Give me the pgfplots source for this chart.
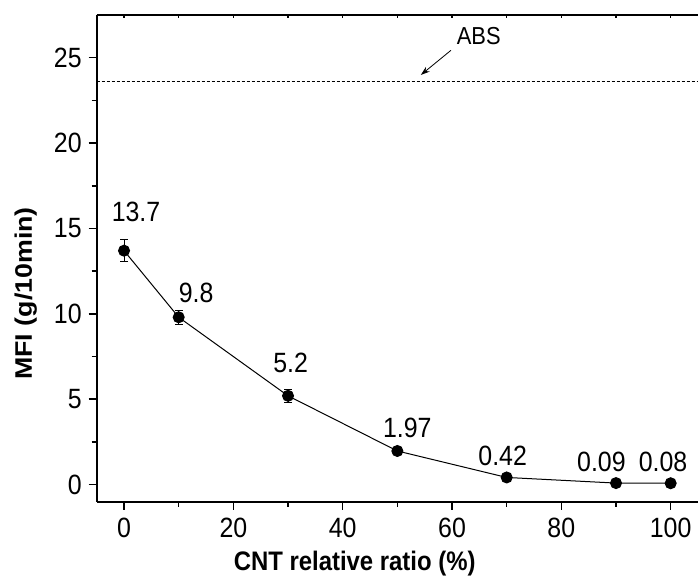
\documentclass[border=0pt]{standalone}
\usepackage{fontspec}
\setmainfont{Liberation Sans}
\usepackage{pgfplots}
\usepackage{pgfplotstable}
\pgfplotsset{compat=1.18}
\usetikzlibrary{arrows.meta}

% MFI vs CNT relative ratio; dx/dy place the value labels
\pgfplotstableread{
x    y     err   label  dx    dy
0    13.7  0.66  13.7   6.0   14.0
10   9.8   0.41  9.8    8.7   7.0
30   5.2   0.39  5.2    1.3   11.5
50   1.97  0.10  1.97   5.0   6.3
70   0.42  0.05  0.42  -2.0   5.8
90   0.09  0.02  0.09  -7.3   5.5
100  0.08  0.02  0.08  -3.8   5.5
}\mfidata

\begin{document}
\begin{tikzpicture}
\pgfplotsset{
  frame/.style={
    at={(0,0)}, anchor=south west,
    scale only axis, width=300.65bp, height=243.35bp,
    xmin=-5, xmax=105, ymin=-1, ymax=27.5,
  }
}
% top line with its small ticks
\begin{axis}[frame,
  axis x line*=top, axis y line=none,
  axis line style={line width=1bp},
  xtick={0,20,...,100}, minor x tick num=1, xticklabels={},
  tick align=inside, major tick length=1.5bp, minor tick length=1.5bp,
  every tick/.style={black, line width=0.8bp},
]
\addplot[draw=none] coordinates {(0,0)};
\end{axis}

\begin{axis}[frame,
  axis lines*=left,
  axis line style={line width=1bp},
  every tick/.style={black, line width=0.8bp},
  tick align=outside,
  major tick length=4bp, minor tick length=2.5bp,
  xtick={0,20,...,100}, minor x tick num=1,
  ytick={0,5,...,25}, minor y tick num=1,
  /pgf/number format/assume math mode=true,
  ticklabel style={font=\fontsize{12.5}{15}\selectfont, yscale=1.12},
  xlabel={CNT relative ratio (\%)},
  ylabel={MFI (g/10min)},
  label style={font=\fontsize{12}{14}\selectfont\bfseries},
  xlabel style={at={(axis description cs:0.429,0)}, anchor=center,
    yshift=-30.7bp, yscale=1.12},
  ylabel style={at={(axis description cs:-0.1178,0.428)}, anchor=center,
    rotate=0, xscale=1.12},
  clip=false,
]
\addplot[black, line width=0.4bp, dash pattern=on 1.5bp off 1bp]
  coordinates {(-5,23.6) (105,23.6)};
\draw[-{Stealth[length=4.5bp,width=3bp]}, line width=0.4bp]
  (axis cs:59.8,25.43) -- (axis cs:54.3,23.99);
\node[font=\fontsize{11}{13}\selectfont, yscale=1.12] at (axis cs:64.9,26.25) {ABS};

\addplot[black, line width=0.5bp, mark=*, mark size=2.75bp,
  mark options={solid, fill=black},
  error bars/.cd, y dir=both, y explicit,
  error bar style={line width=0.5bp},
  error mark options={rotate=90, mark size=2bp, line width=0.5bp},
] table[x=x, y=y, y error=err] {\mfidata};

\addplot[draw=none, mark=none,
  nodes near coords, point meta=explicit symbolic,
  visualization depends on={\thisrow{dx} \as \dx},
  visualization depends on={\thisrow{dy} \as \dy},
  nodes near coords style={anchor=south, inner sep=0pt,
    xshift=\dx bp, yshift=\dy bp, yscale=1.12,
    font=\fontsize{12.5}{15}\selectfont},
] table[x=x, y=y, meta=label] {\mfidata};
\end{axis}
\pgfresetboundingbox
\path[use as bounding box] (-48.35bp,-37.15bp) rectangle (300.65bp,250.85bp);
\end{tikzpicture}
\end{document}
